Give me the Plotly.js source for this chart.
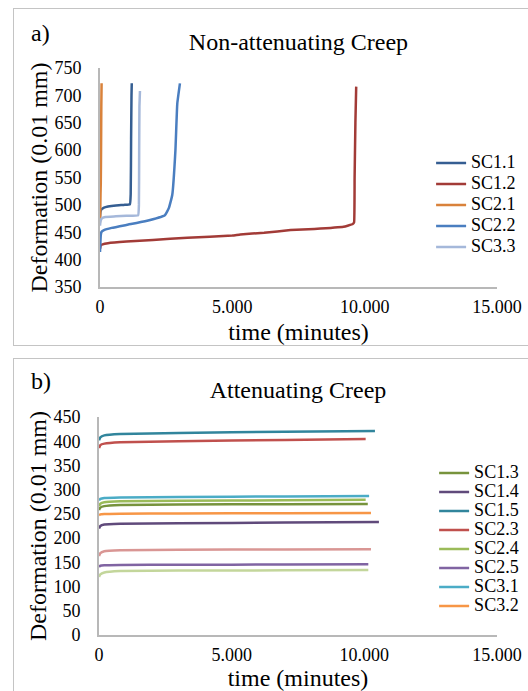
<!DOCTYPE html>
<html>
<head>
<meta charset="utf-8">
<script src="https://cdn.plot.ly/plotly-3.0.1.min.js"></script>
<style>
  html, body { margin: 0; padding: 0; background: #fff; width: 528px; height: 691px; overflow: hidden; position: relative; }
  .plot { position: absolute; left: 0; width: 528px; }
  .frame { position: absolute; left: 13px; width: 540px; border: 1px solid #c4c4c4; pointer-events: none; box-sizing: border-box; }
</style>
</head>
<body>
<div id="chartA" class="plot" style="top:0px;height:345px;"></div>
<div id="chartB" class="plot" style="top:350px;height:341px;"></div>
<div class="frame" style="top:8px;height:338px;"></div>
<div class="frame" style="top:358px;height:400px;"></div>
<script>
// ---------- Panel a: Non-attenuating creep ----------
const namesA = ['SC1.1', 'SC1.2', 'SC2.1', 'SC2.2', 'SC3.3'];
const colorsA = ['#355E92', '#A23B37', '#D9823B', '#4A7EC0', '#A5B8DA'];
const sc11_x = [0, 20, 60, 150, 300, 600, 900, 1130, 1160, 1175, 1190, 1200];
const sc11_y = [478, 488, 492, 495, 497, 499, 500, 501, 520, 620, 700, 722];
const sc12_x = [0, 30, 100, 300, 1000, 2000, 3300, 5000, 5300, 6200, 7200, 8100, 9200, 9550, 9600, 9620, 9650, 9680];
const sc12_y = [420, 426, 428, 430, 433, 436, 440, 444, 446, 449, 454, 456, 460, 465, 468, 550, 650, 716];
const sc21_x = [0, 10, 20, 30, 40, 50, 60];
const sc21_y = [468, 490, 520, 540, 600, 680, 722];
const sc22_x = [0, 30, 60, 150, 440, 1070, 1700, 2450, 2600, 2730, 2850, 2920, 3020];
const sc22_y = [414, 445, 451, 454, 458, 464, 470, 481, 494, 518, 600, 685, 722];
const sc33_x = [0, 20, 60, 200, 600, 1000, 1440, 1470, 1480, 1490, 1510];
const sc33_y = [462, 470, 475, 478, 479, 480, 481, 500, 600, 680, 708];
const xsA = [sc11_x, sc12_x, sc21_x, sc22_x, sc33_x];
const ysA = [sc11_y, sc12_y, sc21_y, sc22_y, sc33_y];
const yTicksA = [350, 400, 450, 500, 550, 600, 650, 700, 750];

// ---------- Panel b: Attenuating creep ----------
const namesB = ['SC1.3', 'SC1.4', 'SC1.5', 'SC2.3', 'SC2.4', 'SC2.5', 'SC3.1', 'SC3.2'];
const colorsB = ['#77933C', '#604A7B', '#31859C', '#C0504D', '#9BBB59', '#8064A2', '#4BACC6', '#F79646'];
const sc13_x = [0, 50, 200, 800, 3000, 7000, 10130];
const sc13_y = [258, 263, 266, 268.5, 269.5, 270, 270.5];
const sc14_x = [0, 50, 200, 800, 3000, 7000, 10550];
const sc14_y = [220, 225, 228, 229.5, 230.5, 232, 233];
const sc15_x = [0, 50, 200, 800, 3000, 7000, 10400];
const sc15_y = [402, 408, 412, 415, 417, 419.5, 421];
const sc23_x = [0, 50, 200, 800, 3000, 7000, 10050];
const sc23_y = [386, 392, 395, 398, 400, 402.5, 404.5];
const sc24_x = [0, 50, 200, 800, 3000, 7000, 10050];
const sc24_y = [266, 271, 274, 276, 277, 278, 279];
const sc25_x = [0, 50, 200, 800, 3000, 7000, 10150];
const sc25_y = [141, 143, 144, 144.5, 145, 145.5, 146];
const sc31_x = [0, 50, 200, 800, 3000, 7000, 10180];
const sc31_y = [278, 281, 283, 284, 285, 286, 287];
const sc32_x = [0, 50, 200, 800, 3000, 7000, 10250];
const sc32_y = [247, 249, 250, 250.5, 251, 251.5, 252];
// two further curves drawn in the chart without a legend entry
const extraNamesB = ['unlabelled (pink)', 'unlabelled (pale green)'];
const extraColorsB = ['#D99694', '#C3D69B'];
const ext1_x = [0, 50, 200, 800, 3000, 7000, 10250];
const ext1_y = [163, 169, 173, 175, 176, 176.5, 177];
const ext2_x = [0, 50, 200, 800, 3000, 7000, 10150];
const ext2_y = [120, 125, 129, 132, 133, 133.5, 134];
const xsB = [sc13_x, sc14_x, sc15_x, sc23_x, sc24_x, sc25_x, sc31_x, sc32_x];
const ysB = [sc13_y, sc14_y, sc15_y, sc23_y, sc24_y, sc25_y, sc31_y, sc32_y];
const yTicksB = [0, 50, 100, 150, 200, 250, 300, 350, 400, 450];

const xTicks = [0, 5000, 10000, 15000];

const FONT = '"Liberation Serif", "Times New Roman", serif';
const AXISCOL = '#b8b8b8';

function legendName(n) { return '<span style="font-size:18px">' + n + '</span>'; }

function baseLayout(opts) {
  return {
    width: 528, height: opts.height,
    margin: Object.assign({ autoexpand: false }, opts.margin),
    paper_bgcolor: 'rgba(0,0,0,0)', plot_bgcolor: 'rgba(0,0,0,0)',
    separators: ',.',
    font: { family: FONT, color: '#000', size: 18 },
    showlegend: true,
    title: { text: opts.title, font: { family: FONT, size: 24, color: '#000' },
             x: 0.5, xref: 'paper', xanchor: 'center', y: opts.titleY, yref: 'container', yanchor: 'middle' },
    xaxis: {
      range: [0, 15000], tickvals: xTicks, tickformat: ',.0f',
      showline: true, linecolor: AXISCOL, linewidth: 2, showgrid: false, zeroline: false,
      ticks: '', ticklabelstandoff: 2, tickfont: { family: FONT, size: 18, color: '#000' },
      title: { text: 'time (minutes)', font: { family: FONT, size: 24, color: '#000' }, standoff: 16 },
      automargin: false, fixedrange: true
    },
    yaxis: {
      range: opts.yRange, tickvals: opts.yTicks,
      showline: true, linecolor: AXISCOL, linewidth: 2, showgrid: false, zeroline: false,
      ticks: '', ticklabelstandoff: 13, tickfont: { family: FONT, size: 18, color: '#000' },
      title: { text: 'Deformation (0.01 mm)', font: { family: FONT, size: 24, color: '#000' }, standoff: 0 },
      automargin: false, fixedrange: true
    },
    legend: {
      x: opts.legX, y: opts.legY, xanchor: 'left', yanchor: 'top',
      bgcolor: 'rgba(0,0,0,0)', borderwidth: 0,
      font: { family: FONT, size: opts.legFont, color: '#000' },
      itemwidth: 30, traceorder: 'normal'
    },
    annotations: [{
      text: opts.label, xref: 'paper', yref: 'paper', x: opts.labelX, y: opts.labelY,
      xanchor: 'left', yanchor: 'middle', showarrow: false,
      font: { family: FONT, size: 24, color: '#000' }
    }]
  };
}

const tracesA = namesA.map((n, i) => ({
  type: 'scatter', mode: 'lines', name: legendName(n),
  x: xsA[i], y: ysA[i],
  line: { color: colorsA[i], width: 2.5, shape: 'spline', smoothing: 0.3 }
}));

const layoutA = baseLayout({
  height: 345, margin: { l: 100, r: 31, t: 68, b: 58 },
  title: 'Non-attenuating Creep', titleY: 1 - 42 / 345,
  yRange: [350, 750], yTicks: yTicksA,
  legX: 0.834, legY: 0.637, legFont: 13.85,
  label: 'a)', labelX: -0.179, labelY: 1.16
});

const tracesB = namesB.map((n, i) => ({
  type: 'scatter', mode: 'lines', name: legendName(n),
  x: xsB[i], y: ysB[i],
  line: { color: colorsB[i], width: 2.5, shape: 'spline', smoothing: 0.3 }
})).concat([
  { type: 'scatter', mode: 'lines', name: extraNamesB[0], showlegend: false,
    x: ext1_x, y: ext1_y, line: { color: extraColorsB[0], width: 2.5, shape: 'spline', smoothing: 0.3 } },
  { type: 'scatter', mode: 'lines', name: extraNamesB[1], showlegend: false,
    x: ext2_x, y: ext2_y, line: { color: extraColorsB[1], width: 2.5, shape: 'spline', smoothing: 0.3 } }
]);

const layoutB = baseLayout({
  height: 341, margin: { l: 99, r: 31, t: 67, b: 56 },
  title: 'Attenuating Creep', titleY: 1 - 40 / 341,
  yRange: [0, 450], yTicks: yTicksB,
  legX: 0.842, legY: 0.810, legFont: 12,
  label: 'b)', labelX: -0.176, labelY: 1.165
});

const config = { staticPlot: true, displayModeBar: false };
Plotly.newPlot('chartA', tracesA, layoutA, config);
Plotly.newPlot('chartB', tracesB, layoutB, config);
</script>
</body>
</html>
